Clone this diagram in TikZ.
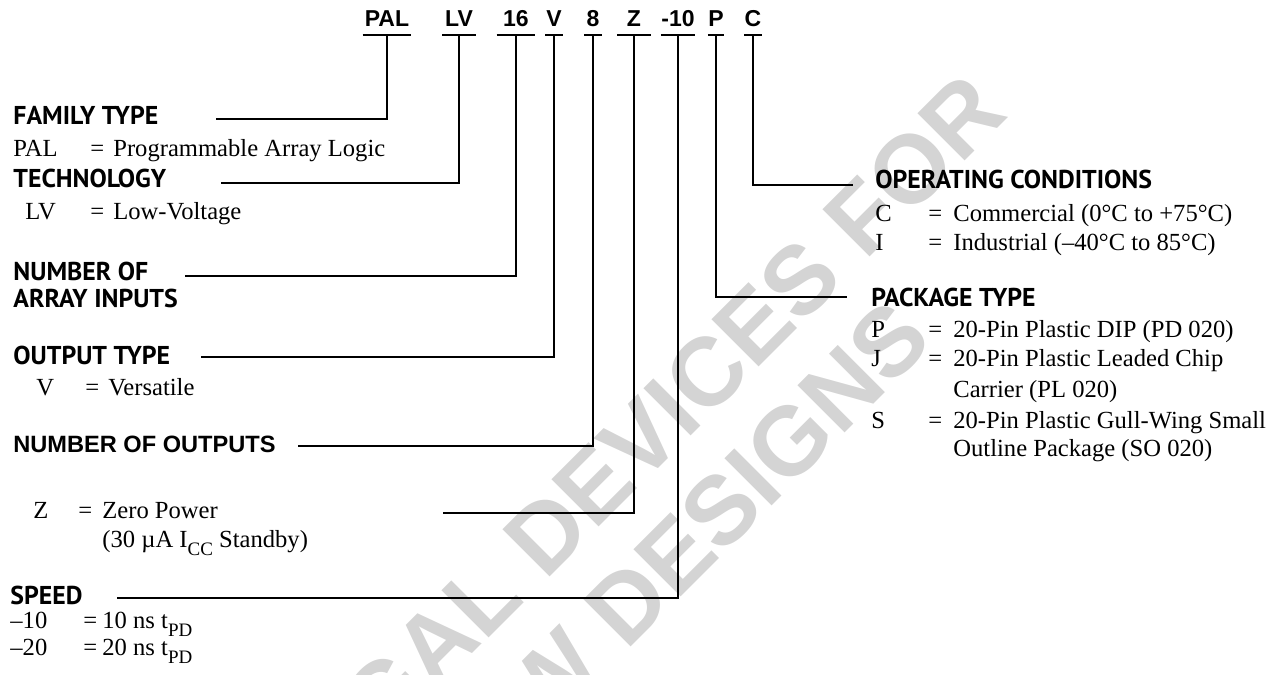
\documentclass[tikz,border=0pt]{standalone}
\usepackage{fontspec}
\setmainfont{Liberation Serif}
\newfontfamily\codefont{Liberation Sans}
\newfontfamily\headfont{PT Sans}
\usetikzlibrary{positioning, calc}

\newcommand{\legrow}[4]{\makebox[#1][l]{#2}\makebox[#3][l]{=}#4}
\newcommand{\lowsub}[1]{\raisebox{-4pt}{\fontsize{9.5}{10}\selectfont #1}}

\begin{document}
\begin{tikzpicture}[x=0.5pt, y=-0.5pt,
    code/.style={font=\codefont\bfseries\fontsize{11.5}{13}\selectfont, anchor=base, inner xsep=0pt, inner ysep=4.2pt, text depth=0pt},
    head/.style={font=\headfont\bfseries\fontsize{12.9}{15}\selectfont, anchor=base west, inner sep=0pt},
    headarial/.style={font=\codefont\bfseries\fontsize{11.8}{14}\selectfont, anchor=base west, inner sep=0pt},
    desc/.style={font=\fontsize{12.3}{14}\selectfont, anchor=base west, inner sep=0pt},
    lead/.style={line width=1.3pt},
    uline/.style={line width=1pt},
    wmark/.style={rotate=45, align=center, text=black!17, inner sep=0pt, font=\codefont\bfseries\fontsize{48.5}{53.5}\selectfont}]
    \path[use as bounding box] (0,0) rectangle (1276,675);

    % watermark
    \begin{scope}
        \clip (0,0) rectangle (1276,675);
        \node[wmark] (wm) at (630,525) {USE GAL DEVICES FOR\\NEW DESIGNS};
    \end{scope}

    % part number
    \node[code, minimum width=24pt] (cPAL) at (387,26) {PAL};
    \node[code, minimum width=16.5pt] (cLV) at (459,26) {LV};
    \node[code, minimum width=19pt] (c16) at (516,26) {16};
    \node[code, minimum width=8.5pt] (cV) at (554,26) {V};
    \node[code, minimum width=8.5pt] (c8) at (593,26) {8};
    \node[code, minimum width=16.5pt] (cZ) at (634,26) {Z};
    \node[code, minimum width=16.5pt] (cSpd) at (678,26) {-10};
    \node[code, minimum width=7.5pt] (cP) at (716,26) {P};
    \node[code, minimum width=8.5pt] (cC) at (753,26) {C};
    \draw[uline] (cPAL.south west) -- (cPAL.south east);
    \draw[uline] (cLV.south west) -- (cLV.south east);
    \draw[uline] (c16.south west) -- (c16.south east);
    \draw[uline] (cV.south west) -- (cV.south east);
    \draw[uline] (c8.south west) -- (c8.south east);
    \draw[uline] (cZ.south west) -- (cZ.south east);
    \draw[uline] (cSpd.south west) -- (cSpd.south east);
    \draw[uline] (cP.south west) -- (cP.south east);
    \draw[uline] (cC.south west) -- (cC.south east);

    % left column
    \node[head] (hFam) at (13,124) {FAMILY TYPE};
    \node[desc] (dPAL) at (13,156) {\legrow{38.5pt}{PAL}{11.5pt}{Programmable Array Logic}};
    \node[head] (hTech) at (13,187) {TECHNOLOGY};
    \node[desc] (dLV) at (25,219) {\legrow{32.5pt}{LV}{11.5pt}{Low-Voltage}};
    \node[head] (hIn) at (13,280) {NUMBER OF};
    \node[head] (hIn2) at (13,307) {ARRAY INPUTS};
    \node[head] (hOut) at (13,364) {OUTPUT TYPE};
    \node[desc] (dV) at (36,395) {\legrow{24.5pt}{V}{11.5pt}{Versatile}};
    \node[headarial] (hNum) at (13,452) {NUMBER OF OUTPUTS};
    \node[desc] (dZ) at (33,518) {\legrow{22.5pt}{Z}{12pt}{Zero Power}};
    \node[desc] (dZ2) at (102,547) {(30 µA I\lowsub{CC} Standby)};
    \node[head] (hSpd) at (10,604) {SPEED};
    \node[desc] (d10) at (10,628) {\legrow{36.5pt}{–10}{9.5pt}{10 ns t\lowsub{PD}}};
    \node[desc] (d20) at (10,655) {\legrow{36.5pt}{–20}{9.5pt}{20 ns t\lowsub{PD}}};

    % right column
    \node[head] (hOp) at (875,188) {OPERATING CONDITIONS};
    \node[desc] (dC) at (875,221) {\legrow{26.5pt}{C}{12.5pt}{Commercial (0°C to +75°C)}};
    \node[desc] (dI) at (875,250) {\legrow{26.5pt}{I}{12.5pt}{Industrial (–40°C to 85°C)}};
    \node[head] (hPkg) at (871,306) {PACKAGE TYPE};
    \node[desc] (dP) at (871,337) {\legrow{28.5pt}{P}{12.5pt}{20-Pin Plastic DIP (PD 020)}};
    \node[desc] (dJ) at (871,366) {\legrow{28.5pt}{J}{12.5pt}{20-Pin Plastic Leaded Chip}};
    \node[desc] (dJ2) at (953,397) {Carrier (PL 020)};
    \node[desc] (dS) at (871,428) {\legrow{28.5pt}{S}{12.5pt}{20-Pin Plastic Gull-Wing Small}};
    \node[desc] (dS2) at (953,456) {Outline Package (SO 020)};

    % free ends of the leaders
    \coordinate (eFam) at (216,119);
    \coordinate (eTech) at (221,183);
    \coordinate (eIn) at (185,276);
    \coordinate (eOut) at (201,357);
    \coordinate (eNum) at (298,446);
    \coordinate (eZ) at (443,513);
    \coordinate (eSpd) at (117,598);
    \coordinate (eOp) at (853,185);
    \coordinate (ePkg) at (847,297);

    \draw[lead] (cPAL.south) |- (eFam);
    \draw[lead] (cLV.south) |- (eTech);
    \draw[lead] (c16.south) |- (eIn);
    \draw[lead] (cV.south) |- (eOut);
    \draw[lead] (c8.south) |- (eNum);
    \draw[lead] (cZ.south) |- (eZ);
    \draw[lead] (cSpd.south) |- (eSpd);
    \draw[lead] (cP.south) |- (ePkg);
    \draw[lead] (cC.south) |- (eOp);
\end{tikzpicture}
\end{document}
